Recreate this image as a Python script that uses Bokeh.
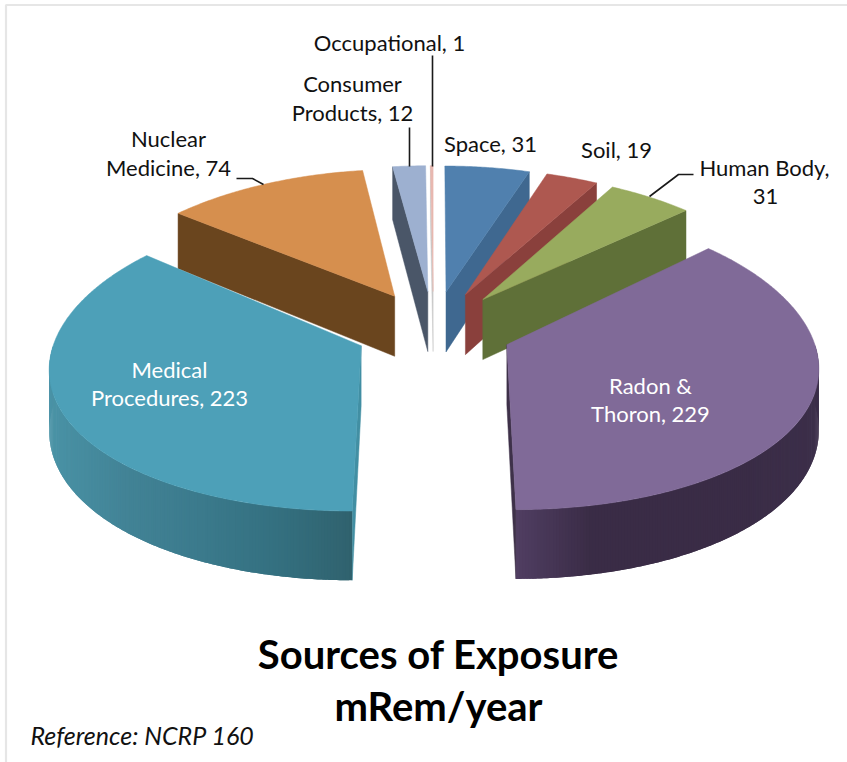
import math
from bokeh.embed import file_html
from bokeh.models import Range1d
from bokeh.plotting import figure
from bokeh.resources import INLINE

# ---- data
categories = ["Space", "Soil", "Human Body", "Radon & Thoron", "Medical Procedures",
              "Nuclear Medicine", "Consumer Products", "Occupational"]
values = [31, 19, 31, 229, 223, 74, 12, 1]
top_colors = ["#5080AE", "#AE5850", "#98AB5E", "#806A98", "#4DA0B8", "#D68F4E", "#9DB0D0", "#E8B8B0"]
face_colors = ["#3F6890", "#8A403C", "#5F7038", "#3E3149", "#428FA3", "#6A451E", "#4A5668", "#C9C9C9"]
# colours of the outer wall, from screen left to screen right
rim_stops = {
    "Radon & Thoron": ["#503E62", "#3A2C46", "#3A2C46", "#3A2C46", "#3C2F4A"],
    "Medical Procedures": ["#4A93A6", "#428396", "#3B7A8C", "#347080", "#30626E"],
}

# ---- projection of the exploded 3-D pie (reference pixels)
CX, CY = 433.0, 329.0          # pie centre
EX, EY = 80.0, 38.0            # explosion along the slice's middle angle
RX, RY = 308.0, 145.7          # radii
KX = 0.134                     # perspective across
KY, KE = 0.0893, 0.0686        # perspective along the depth, and from the explosion
SHIFT = 0.8                    # how far an exploded slice fans out towards the viewer
DEPTH = 60.0                   # wall height
W, H = 847, 762


def unit(theta):
    t = math.radians(theta)
    return math.sin(t), math.cos(t)


def rim_point(ax, ay, theta, mv):
    u, v = unit(theta)
    sx = 1.0 / (1.0 + KX * v)
    sy = 1.0 / (1.0 + KY * v + KE * mv)
    return ax + (ax - CX) * (sx - 1.0) * SHIFT + RX * u * sx, ay - RY * v * sy, DEPTH * sx


def hex_rgb(c):
    return tuple(int(c[i:i + 2], 16) for i in (1, 3, 5))


def ramp(stops, t):
    t = max(0.0, min(1.0, t)) * (len(stops) - 1)
    i = min(int(t), len(stops) - 2)
    a, b = hex_rgb(stops[i]), hex_rgb(stops[i + 1])
    f = t - i
    return "#%02X%02X%02X" % tuple(round(a[j] + (b[j] - a[j]) * f) for j in range(3))


p = figure(width=W, height=H, output_backend="svg", toolbar_location=None,
           x_range=Range1d(0, W), y_range=Range1d(H, 0), min_border=0)
p.axis.visible = False
p.grid.visible = False
p.outline_line_color = None
p.background_fill_color = "white"
p.border_fill_color = "white"

# faint frame of the slide
p.line([5.5, 5.5, W], [H, 4.5, 4.5], line_color="#E6E6E6", line_width=2.2)

total = sum(values)
slices = []
angle = 0.0
for name, val, ct, cf in zip(categories, values, top_colors, face_colors):
    sweep = 360.0 * val / total
    slices.append(dict(name=name, start=angle, end=angle + sweep, top=ct, face=cf))
    angle += sweep
slices.sort(key=lambda s: -abs((s["start"] + s["end"]) / 2 - 180))

for s in slices:
    mid = (s["start"] + s["end"]) / 2
    mu, mv = unit(mid)
    ax, ay = CX + EX * mu, CY - EY * mv

    # flat cut faces that look towards the viewer
    for theta, sign in ((s["start"], -1), (s["end"], 1)):
        u, v = unit(theta)
        normal_v = -sign * u
        if normal_v < -1e-6 or (abs(normal_v) < 1e-6 and v < 0):
            x, y, d = rim_point(ax, ay, theta, mv)
            p.patch([ax, x, x, ax], [ay, y, y + d, ay + DEPTH],
                    fill_color=s["face"], line_color=s["face"], line_width=0.5)

    # outer wall, front half only; each band overlaps the next so no seams show
    lo, hi = max(s["start"], 90.0), min(s["end"], 270.0)
    if hi > lo and s["name"] in rim_stops:
        n = int(hi - lo) * 2
        rim = [rim_point(ax, ay, lo + (hi - lo) * i / n, mv) for i in range(n + 1)]
        xmin, xmax = min(q[0] for q in rim), max(q[0] for q in rim)
        stops = rim_stops[s["name"]]
        for i in range(n):
            seg = rim[i:min(i + 3, n + 1)]
            col = ramp(stops, ((rim[i][0] + rim[i + 1][0]) / 2 - xmin) / (xmax - xmin))
            p.patch([q[0] for q in seg] + [q[0] for q in reversed(seg)],
                    [q[1] for q in seg] + [q[1] + q[2] for q in reversed(seg)],
                    fill_color=col, line_color=None)

    # top surface
    n = max(2, int(s["end"] - s["start"]) * 2)
    pts = [rim_point(ax, ay, s["start"] + (s["end"] - s["start"]) * i / n, mv) for i in range(n + 1)]
    p.patch([ax] + [q[0] for q in pts], [ay] + [q[1] for q in pts],
            fill_color=s["top"], line_color=s["top"], line_width=0.5)

# ---- leader lines
leaders = [
    ([432, 432], [55, 166]),
    ([409, 409], [127, 166]),
    ([236, 252, 263], [178, 178, 184]),
    ([693, 678, 649], [174, 174, 196]),
]
for lx, ly in leaders:
    p.line(lx, ly, line_color="#1A1A1A", line_width=1.6)

# ---- texts
FONT = "Lato"
labels = [
    ("Occupational, 1", 389, 42, "#111111"),
    ("Consumer", 352, 83, "#111111"),
    ("Products, 12", 352, 112, "#111111"),
    ("Nuclear", 168, 138, "#111111"),
    ("Medicine, 74", 168, 167, "#111111"),
    ("Space, 31", 490, 143, "#111111"),
    ("Soil, 19", 616, 149, "#111111"),
    ("Human Body,", 764, 167, "#111111"),
    ("31", 765, 196, "#111111"),
    ("Radon &", 650, 385, "#FFFFFF"),
    ("Thoron, 229", 650, 413, "#FFFFFF"),
    ("Medical", 169, 369, "#FFFFFF"),
    ("Procedures, 223", 169, 397, "#FFFFFF"),
]
for txt, x, y, col in labels:
    p.text([x], [y], text=[txt], text_font={"value": FONT}, text_font_size="22px",
           text_color=col, text_align="center", text_baseline="middle")
for txt, y in (("Sources of Exposure", 653), ("mRem/year", 705)):
    p.text([438], [y], text=[txt], text_font={"value": FONT}, text_font_size="40px",
           text_font_style="bold", text_color="#000000", text_align="center", text_baseline="middle")
p.text([30], [734], text=["Reference: NCRP 160"], text_font={"value": FONT}, text_font_size="25px",
       text_font_style="italic", text_color="#111111", text_align="left", text_baseline="middle")

open("out.html", "w").write(file_html(p, INLINE))
